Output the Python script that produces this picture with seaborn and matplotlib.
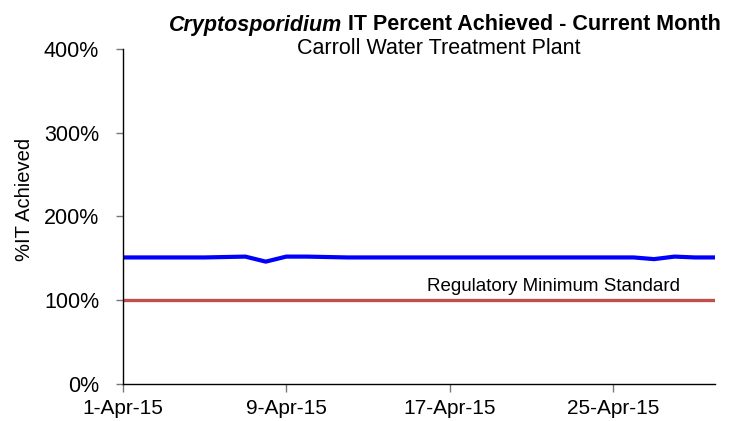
import numpy as np
import pandas as pd
import matplotlib
matplotlib.use("Agg")
import matplotlib.pyplot as plt
import seaborn as sns

# Data
dates = pd.date_range("2015-04-01", "2015-04-30", freq="D")
it_percent = [151, 151, 151, 151, 151, 151.5, 152, 146, 152, 152,
              151.5, 151, 151, 151, 151, 151, 151, 151, 151, 151,
              151, 151, 151, 151, 151, 151, 149, 152, 151, 151]
reg_min = [100] * len(dates)
xtick_dates = pd.to_datetime(["2015-04-01", "2015-04-09", "2015-04-17", "2015-04-25"])
ytick_vals = [0, 100, 200, 300, 400]

df = pd.DataFrame({"date": dates, "it": it_percent, "reg": reg_min})

sns.set_style("white")
plt.rcParams["font.family"] = ["Liberation Sans", "DejaVu Sans"]
plt.rcParams["text.color"] = "black"
plt.rcParams["axes.labelcolor"] = "black"

W, H = 753, 421
fig = plt.figure(figsize=(W / 100, H / 100), dpi=100)
ax = fig.add_axes([0.163, 0.088, 0.787, 0.796])

sns.lineplot(data=df, x="date", y="reg", ax=ax, color="#C0504D", linewidth=2.4)
sns.lineplot(data=df, x="date", y="it", ax=ax, color="#0000FF", linewidth=3.0)

ax.set_xlim(dates[0], dates[-1])
ax.set_ylim(0, 400)
ax.set_yticks(ytick_vals)
ax.set_yticklabels([f"{v}%" for v in ytick_vals], fontsize=15.5)
ax.set_xticks(xtick_dates)
ax.set_xticklabels([f"{d.day}-{d.strftime('%b-%y')}" for d in xtick_dates], fontsize=15)
ax.set_xlabel("")
ax.set_ylabel("%IT Achieved", fontsize=14.5, labelpad=7)
ax.yaxis.label.set_y(0.55)

for s in ["top", "right"]:
    ax.spines[s].set_visible(False)
for s in ["left", "bottom"]:
    ax.spines[s].set_color("black")
    ax.spines[s].set_linewidth(1.0)
ax.tick_params(axis="y", direction="out", length=5, width=1, color="#777777",
               labelcolor="black", pad=12, left=True)
ax.tick_params(axis="x", direction="out", length=6, width=1, color="#777777",
               labelcolor="black", pad=5, bottom=True)

ax.text(dates[17] + pd.Timedelta(days=4.1), 106, "Regulatory Minimum Standard",
        fontsize=13.5, ha="center", va="bottom")

# Title: italic part + bold part, centered at x=445 px
fig.canvas.draw()
r = fig.canvas.get_renderer()
t1 = fig.text(0, 0, "Cryptosporidium", fontsize=15.5, weight="bold", style="italic")
t2 = fig.text(0, 0, " IT Percent Achieved - Current Month", fontsize=15.5, weight="bold")
w1 = t1.get_window_extent(r).width
w2 = t2.get_window_extent(r).width
x0 = 445 - (w1 + w2) / 2
ty = 1 - 25 / H
t1.set_position((x0 / W, ty)); t1.set_va("center")
t2.set_position(((x0 + w1) / W, ty)); t2.set_va("center")
fig.text(439 / W, 1 - 49 / H, "Carroll Water Treatment Plant", fontsize=15.5, ha="center", va="center")

fig.savefig("out.png", dpi=100, facecolor="white")
